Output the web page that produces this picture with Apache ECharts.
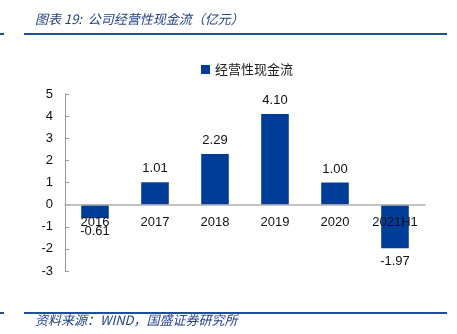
<!DOCTYPE html>
<html><head><meta charset="utf-8">
<script src="https://cdn.jsdelivr.net/npm/echarts@6/dist/echarts.min.js"></script>
<style>html,body{margin:0;padding:0;background:#fff}#c{width:457px;height:334px}</style>
</head><body><div id="c"></div>
<script>
const categories = ['2016','2017','2018','2019','2020','2021H1'];
const values = [-0.61, 1.01, 2.29, 4.10, 1.00, -1.97];
const yTicks = {min:-3, max:5, interval:1};
const seriesName = '经营性现金流';
const titleText = '图表 19:  公司经营性现金流（亿元）';
const sourceText = '资料来源：WIND，国盛证券研究所';

const chart = echarts.init(document.getElementById('c'));
const font = '"Noto Sans CJK SC", "DejaVu Sans", sans-serif';
const numFont = '"Liberation Sans", "DejaVu Sans", sans-serif';
chart.setOption({
  animation:false,
  textStyle:{fontFamily:font},
  legend:{data:[seriesName], top:58, left:196, itemWidth:9, itemHeight:9, itemGap:3,
    textStyle:{fontSize:13, color:'#222', fontFamily:font}, icon:'rect'},
  grid:{left:65, right:32, top:94, bottom:63},
  xAxis:{type:'category', data:categories, z:10,
    axisLine:{onZero:true, lineStyle:{color:'#b0b0b0', width:1.5}},
    axisTick:{inside:true, length:5, lineStyle:{color:'#999'}},
    axisLabel:{color:'#111', fontSize:13, margin:-55, interval:0, fontFamily:numFont}},
  yAxis:{type:'value', min:yTicks.min, max:yTicks.max, interval:yTicks.interval,
    axisLine:{show:true, lineStyle:{color:'#999'}},
    axisTick:{show:true, inside:true, length:4, lineStyle:{color:'#999'}},
    splitLine:{show:false},
    axisLabel:{color:'#111', fontSize:13, margin:12, fontFamily:numFont}},
  series:[{name:seriesName, type:'bar', data:values, barWidth:'46%',
    itemStyle:{color:'#003D99'},
    label:{show:true, position:'outside', color:'#111', fontSize:13, distance:7,
      fontFamily:numFont,
      formatter:p=>p.value.toFixed(2)}}],
  graphic:[
    {type:'text', left:35, top:13, style:{text:titleText, fill:'#24438C', fontSize:13, fontStyle:'italic', fontFamily:font}},
    {type:'rect', shape:{x:24, y:33, width:423, height:2}, style:{fill:'#1F4E9A'}},
    {type:'rect', shape:{x:0, y:33, width:4, height:2}, style:{fill:'#1F4E9A'}},
    {type:'rect', shape:{x:24, y:312, width:423, height:2}, style:{fill:'#1F4E9A'}},
    {type:'rect', shape:{x:0, y:312, width:4, height:2}, style:{fill:'#1F4E9A'}},
    {type:'text', left:35, top:314, style:{text:sourceText, fill:'#24438C', fontSize:13, fontStyle:'italic', fontFamily:font}}
  ]
});
</script></body></html>
